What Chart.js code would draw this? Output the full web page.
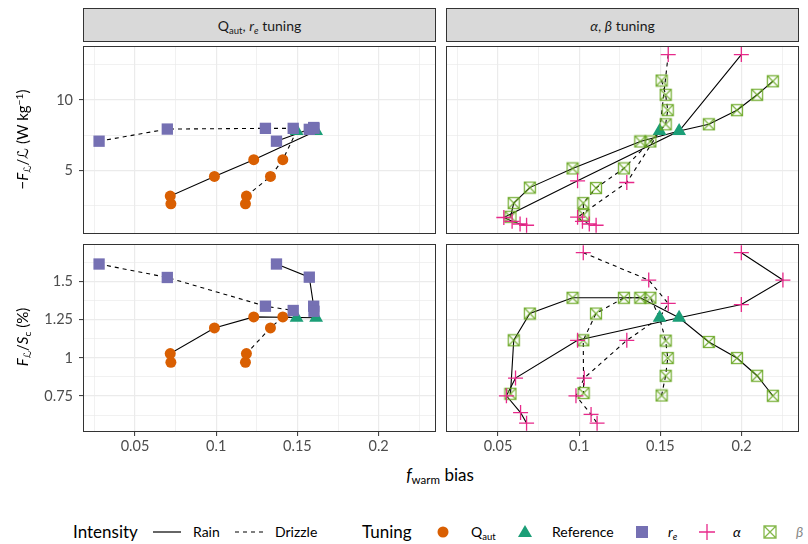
<!DOCTYPE html>
<html>
<head>
<meta charset="utf-8">
<script src="https://cdn.jsdelivr.net/npm/chart.js@4.4.1/dist/chart.umd.min.js"></script>
<style>
  body { margin: 0; background: #fff; font-family: Lato, "DejaVu Sans", sans-serif; }
  #wrap { position: relative; width: 808px; height: 544px; overflow: hidden; }
  canvas { position: absolute; }
  .strip { position: absolute; top: 8px; height: 34px; width: 353px; background: #d9d9d9;
           border: 1px solid #333; box-sizing: border-box; font-size: 14px; color: #1a1a1a;
           display: flex; align-items: center; justify-content: center; }
  .ytitle { position: absolute; width: 200px; left: -78px; text-align: center; font-size: 15px;
            color: #000; transform: rotate(-90deg); white-space: nowrap; }
  .xtitle { position: absolute; left: 340px; width: 200px; top: 464px; text-align: center; font-size: 17px; }
  i { font-style: italic; }
  sub { font-size: 68%; vertical-align: -0.3em; line-height: 0; }
  sup { font-size: 68%; vertical-align: 0.45em; line-height: 0; }
  .lg { position: absolute; top: 521px; font-size: 14px; color: #000; white-space: nowrap; line-height: 22px; }
  .lgt { font-size: 17px; }
  .ic { position: absolute; top: 521px; }
</style>
</head>
<body>
<div id="wrap">
  <div class="strip" style="left:83px"><span>Q<sub>aut</sub>, <i>r<sub>e</sub></i> tuning</span></div>
  <div class="strip" style="left:446px"><span><i>α</i>, <i>β</i> tuning</span></div>

  <canvas id="tl" width="436" height="188" style="left:0;top:46px"></canvas>
  <canvas id="tr" width="353" height="188" style="left:446px;top:46px"></canvas>
  <canvas id="bl" width="436" height="210" style="left:0;top:244px"></canvas>
  <canvas id="br" width="353" height="210" style="left:446px;top:244px"></canvas>

  <div class="ytitle" style="top:130px">−<i>F</i><sub>ℒ</sub>/ℒ (W kg<sup>−1</sup>)</div>
  <div class="ytitle" style="top:328px"><i>F</i><sub>ℒ</sub>/<i>S</i><sub>c</sub> (%)</div>
  <div class="xtitle"><i>f</i><sub>warm</sub> bias</div>

  <!-- legend -->
  <div class="lg lgt" style="left:73px">Intensity</div>
  <svg class="ic" style="left:152px" width="30" height="22"><line x1="1" y1="11" x2="29" y2="11" stroke="#000" stroke-width="1.2"/></svg>
  <div class="lg" style="left:193px">Rain</div>
  <svg class="ic" style="left:234px" width="30" height="22"><line x1="1" y1="11" x2="29" y2="11" stroke="#000" stroke-width="1.2" stroke-dasharray="4,4"/></svg>
  <div class="lg" style="left:275px">Drizzle</div>
  <div class="lg lgt" style="left:362px">Tuning</div>
  <svg class="ic" style="left:432px" width="22" height="22"><circle cx="11" cy="11" r="5.5" fill="#d95f02"/></svg>
  <div class="lg" style="left:471px">Q<sub>aut</sub></div>
  <svg class="ic" style="left:514px" width="22" height="22"><polygon points="11,4 18,16 4,16" fill="#1b9e77"/></svg>
  <div class="lg" style="left:552px">Reference</div>
  <svg class="ic" style="left:631px" width="22" height="22"><rect x="5" y="5" width="12" height="12" fill="#7570b3"/></svg>
  <div class="lg" style="left:668px"><i>r<sub>e</sub></i></div>
  <svg class="ic" style="left:696px" width="22" height="22"><path d="M11 3 V19 M3 11 H19" stroke="#e7298a" stroke-width="1.3"/></svg>
  <div class="lg" style="left:733px"><i>α</i></div>
  <svg class="ic" style="left:759px" width="22" height="22"><path d="M5 5 H17 V17 H5 Z M5 5 L17 17 M17 5 L5 17" stroke="#66a61e" stroke-opacity="0.8" stroke-width="1.3" fill="none"/></svg>
  <div class="lg" style="left:796px;color:#888"><i>β</i></div>
</div>

<script>
// axis ranges and ticks
const xMin = 0.018, xMax = 0.2353;
const xTicks = [0.025, 0.05, 0.075, 0.1, 0.125, 0.15, 0.175, 0.2, 0.225];
const xMajor = [0.05, 0.1, 0.15, 0.2];
const topMin = 0.5, topMax = 13.83;
const topTicks = [2.5, 5, 7.5, 10, 12.5];
const topMajor = [5, 10];
const botMin = 0.515, botMax = 1.745;
const botTicks = [0.625, 0.75, 0.875, 1, 1.125, 1.25, 1.375, 1.5, 1.625];
const botMajor = [0.75, 1, 1.25, 1.5];

// reference runs: rain, drizzle
const refX = [0.1615, 0.1495];
const refTop = [7.8, 7.8];
const refBot = [1.262, 1.262];

// Q_aut tuning (reference closes each line)
const qautRainX = [0.0721, 0.0717, 0.0989, 0.1231];
const qautRainTop = [2.64, 3.19, 4.58, 5.77];
const qautRainBot = [0.971, 1.028, 1.196, 1.268];
const qautDrizX = [0.118, 0.1186, 0.1334, 0.141];
const qautDrizTop = [2.64, 3.19, 4.58, 5.77];
const qautDrizBot = [0.971, 1.028, 1.196, 1.268];

// r_e tuning
const reRainX = [0.1371, 0.1573, 0.16, 0.1602];
const reRainTop = [7.08, 7.92, 8.05, 8.0];
const reRainBot = [1.614, 1.528, 1.338, 1.305];
const reDrizX = [0.0279, 0.0699, 0.1303, 0.1474];
const reDrizTop = [7.08, 7.94, 7.99, 7.99];
const reDrizBot = [1.614, 1.526, 1.338, 1.31];

// alpha tuning (reference sits inside the line at index *Ref)
const alphaRainTopX = [0.1998, 0.099, 0.0536, 0.0587, 0.0636, 0.0676];
const alphaRainTopY = [13.22, 4.27, 1.67, 1.40, 1.21, 1.12];
const alphaRainTopRef = 1;
const alphaDrizTopX = [0.1548, 0.1293, 0.099, 0.102, 0.1062, 0.1104];
const alphaDrizTopY = [13.22, 4.15, 1.69, 1.40, 1.21, 1.12];
const alphaDrizTopRef = 1;
const alphaRainBotX = [0.1998, 0.2254, 0.1998, 0.099, 0.0608, 0.0552, 0.0639, 0.0676];
const alphaRainBotY = [1.688, 1.509, 1.349, 1.115, 0.868, 0.752, 0.642, 0.573];
const alphaRainBotRef = 3;
const alphaDrizBotX = [0.1025, 0.1428, 0.1548, 0.1293, 0.1031, 0.098, 0.1073, 0.111];
const alphaDrizBotY = [1.688, 1.509, 1.356, 1.115, 0.868, 0.752, 0.63, 0.573];
const alphaDrizBotRef = 3;

// beta tuning
const betaRainX = [0.2192, 0.2095, 0.1971, 0.1798, 0.1376, 0.0959, 0.0696, 0.0597, 0.0577];
const betaRainTop = [11.33, 10.37, 9.28, 8.28, 7.06, 5.15, 3.79, 2.69, 1.72];
const betaRainBot = [0.752, 0.883, 0.999, 1.104, 1.393, 1.393, 1.29, 1.115, 0.765];
const betaDrizX = [0.1507, 0.1532, 0.1545, 0.1532, 0.1438, 0.1275, 0.1103, 0.1025, 0.1027];
const betaDrizTop = [11.38, 10.37, 9.28, 8.28, 7.06, 5.15, 3.76, 2.69, 1.86];
const betaDrizBot = [0.754, 0.883, 0.999, 1.113, 1.393, 1.393, 1.29, 1.115, 0.77];
const betaRef = 4;

const colQaut = '#d95f02', colRef = '#1b9e77', colRe = '#7570b3', colAlpha = '#e7298a', colBeta = '#66a61e';

Chart.defaults.font.family = 'Lato, "DejaVu Sans", sans-serif';
Chart.defaults.font.size = 14.5;
Chart.defaults.color = '#4d4d4d';

function pts(xs, ys) {
    return xs.map((x, i) => ({ x: x, y: ys[i] }));
}

// line through a series with the reference run inserted at position `at`
function withRef(xs, ys, at, rx, ry) {
    const p = pts(xs, ys);
    p.splice(at, 0, { x: rx, y: ry });
    return p;
}

function lineSet(data, dashed) {
    return { data: data, showLine: true, borderColor: '#000', borderWidth: 1.1,
             borderDash: dashed ? [4, 4] : [], pointRadius: 0, order: 10 };
}

function pointSet(data, style, color, radius, order) {
    return { data: data, showLine: false, pointStyle: style, pointRadius: radius,
             backgroundColor: color, borderColor: color, borderWidth: (style === 'cross' ? 1.3 : 0), order: order };
}

// open square with an X for beta
const betaImg = document.createElement('canvas');
betaImg.width = 14; betaImg.height = 14;
(function () {
    const c = betaImg.getContext('2d');
    c.strokeStyle = 'rgba(102,166,30,0.85)';
    c.lineWidth = 1.3;
    c.strokeRect(1.5, 1.5, 11, 11);
    c.beginPath();
    c.moveTo(1.5, 1.5); c.lineTo(12.5, 12.5);
    c.moveTo(12.5, 1.5); c.lineTo(1.5, 12.5);
    c.stroke();
})();

const panelBox = {
    id: 'panelBox',
    afterDraw(chart) {
        const a = chart.chartArea, ctx = chart.ctx;
        ctx.save();
        ctx.strokeStyle = '#333';
        ctx.lineWidth = 1;
        ctx.strokeRect(a.left + 0.5, a.top + 0.5, a.right - a.left - 1, a.bottom - a.top - 1);
        ctx.restore();
    }
};

function makePanel(id, datasets, yMin, yMax, yTicks, yMajor, leftAxis, bottomAxis) {
    const gridOpts = (major) => ({
        color: '#ebebeb',
        lineWidth: c => (c.tick && major.includes(c.tick.value)) ? 1.2 : 0.7,
        tickColor: c => (c.tick && major.includes(c.tick.value)) ? '#333' : 'rgba(0,0,0,0)',
        tickWidth: 1,
        tickLength: 4
    });
    new Chart(document.getElementById(id), {
        type: 'scatter',
        data: { datasets: datasets },
        options: {
            responsive: false,
            animation: false,
            events: [],
            layout: { padding: 0, autoPadding: false },
            plugins: { legend: { display: false }, tooltip: { enabled: false } },
            scales: {
                x: {
                    type: 'linear', min: xMin, max: xMax,
                    afterBuildTicks: s => { s.ticks = xTicks.map(v => ({ value: v })); },
                    afterFit: s => { s.height = bottomAxis ? 22 : 0; s.paddingLeft = 0; s.paddingRight = 0; },
                    ticks: { display: bottomAxis, padding: 2, maxRotation: 0, autoSkip: false,
                             callback: v => xMajor.includes(v) ? String(v) : '' },
                    grid: Object.assign(gridOpts(xMajor), { drawTicks: bottomAxis }),
                    border: { display: false }
                },
                y: {
                    type: 'linear', min: yMin, max: yMax,
                    afterBuildTicks: s => { s.ticks = yTicks.map(v => ({ value: v })); },
                    afterFit: s => { s.width = leftAxis ? 83 : 0; s.paddingTop = 0; s.paddingBottom = 0; },
                    ticks: { display: leftAxis, padding: 6, autoSkip: false,
                             callback: v => yMajor.includes(v) ? String(v) : '' },
                    grid: Object.assign(gridOpts(yMajor), { drawTicks: leftAxis }),
                    border: { display: false }
                }
            }
        },
        plugins: [panelBox]
    });
}

// Q_aut, r_e column
function leftSets(top) {
    const qr = top ? qautRainTop : qautRainBot, qd = top ? qautDrizTop : qautDrizBot;
    const er = top ? reRainTop : reRainBot, ed = top ? reDrizTop : reDrizBot;
    const ry = top ? refTop : refBot;
    return [
        lineSet(withRef(qautRainX, qr, qautRainX.length, refX[0], ry[0]), false),
        lineSet(withRef(qautDrizX, qd, qautDrizX.length, refX[1], ry[1]), true),
        lineSet(withRef(reRainX, er, reRainX.length, refX[0], ry[0]), false),
        lineSet(withRef(reDrizX, ed, reDrizX.length, refX[1], ry[1]), true),
        pointSet(pts(refX, ry), 'triangle', colRef, 8, 5),
        pointSet(pts(qautRainX, qr).concat(pts(qautDrizX, qd)), 'circle', colQaut, 5.5, 4),
        pointSet(pts(reRainX, er).concat(pts(reDrizX, ed)), 'rect', colRe, 8, 3)
    ];
}

// alpha, beta column
function rightSets(top) {
    const ry = top ? refTop : refBot;
    const ar = top ? [alphaRainTopX, alphaRainTopY, alphaRainTopRef] : [alphaRainBotX, alphaRainBotY, alphaRainBotRef];
    const ad = top ? [alphaDrizTopX, alphaDrizTopY, alphaDrizTopRef] : [alphaDrizBotX, alphaDrizBotY, alphaDrizBotRef];
    const br = top ? betaRainTop : betaRainBot, bd = top ? betaDrizTop : betaDrizBot;
    return [
        lineSet(withRef(ar[0], ar[1], ar[2], refX[0], ry[0]), false),
        lineSet(withRef(ad[0], ad[1], ad[2], refX[1], ry[1]), true),
        lineSet(withRef(betaRainX, br, betaRef, refX[0], ry[0]), false),
        lineSet(withRef(betaDrizX, bd, betaRef, refX[1], ry[1]), true),
        pointSet(pts(refX, ry), 'triangle', colRef, 8, 5),
        pointSet(pts(betaRainX, br).concat(pts(betaDrizX, bd)), betaImg, colBeta, 7, 4),
        pointSet(pts(ar[0], ar[1]).concat(pts(ad[0], ad[1])), 'cross', colAlpha, 7.5, 3)
    ];
}

makePanel('tl', leftSets(true), topMin, topMax, topTicks, topMajor, true, false);
makePanel('tr', rightSets(true), topMin, topMax, topTicks, topMajor, false, false);
makePanel('bl', leftSets(false), botMin, botMax, botTicks, botMajor, true, true);
makePanel('br', rightSets(false), botMin, botMax, botTicks, botMajor, false, true);
</script>
</body>
</html>
